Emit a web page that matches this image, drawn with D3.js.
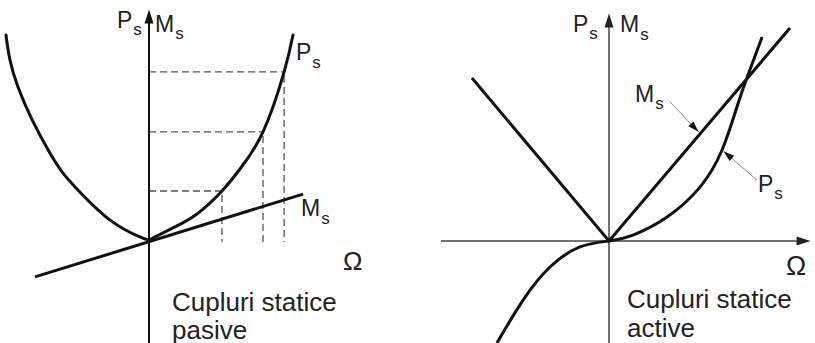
<!DOCTYPE html>
<html>
<head>
<meta charset="utf-8">
<script src="https://cdn.jsdelivr.net/npm/d3@7"></script>
<style>
  body { margin: 0; background: #fff; }
  svg { display: block; }
  text { font-family: "Liberation Sans", Arial, sans-serif; fill: #222; }
</style>
</head>
<body>
<svg id="chart" width="815" height="343"></svg>
<script>
// ---- Passive static torques (left diagram) ----
const passiveOmega   = [-5.96, -5.46, -4.13, -3.08, -1.63, -0.38, 0, 1.0, 2.0, 3.04, 3.79, 4.75, 5.63, 6.0];
const passivePs      = [10.0, 7.46, 4.24, 2.59, 0.98, 0.15, 0, 0.59, 1.27, 2.39, 3.46, 5.27, 8.2, 10.0];
const passiveMsOmega = [-4.75, 6.42];
const passiveMs      = [-1.8, 2.24];
// operating points projected onto the axis with dashed guides
const guideOmega     = [3.04, 4.75, 5.63];
const guidePs        = [2.39, 5.27, 8.2];

// ---- Active static torques (right diagram) ----
const activeOmega    = [-4.67, -3.58, -2.46, -1.21, 0, 1.0, 2.42, 3.79, 4.71, 5.33, 5.79, 6.38];
const activePs       = [-4.98, -2.88, -1.27, -0.29, 0, 0.29, 1.17, 2.63, 4.44, 6.54, 8.10, 9.95];
const activeMsOmega  = [-5.71, 0, 7.54];
const activeMs       = [7.95, 0, 10.39];

// axis extents (data units) for each diagram
const passiveAxisY   = [-5.05, 11.25];
const activeAxisX    = [-7.0, 8.4];
const activeAxisY    = [-5.0, 11.1];

const svg = d3.select("#chart");

// each diagram: origin in pixels, 24 px per Ω unit, 20.5 px per P/M unit
function makeScales(ox, oy) {
  return {
    x: d3.scaleLinear().domain([0, 10]).range([ox, ox + 240]),
    y: d3.scaleLinear().domain([0, 10]).range([oy, oy - 205])
  };
}
const L = makeScales(149, 240);
const R = makeScales(609, 241);

const zip = (xs, ys) => xs.map((v, i) => [v, ys[i]]);

function curvePath(s, pts, curve) {
  return d3.line().x(d => s.x(d[0])).y(d => s.y(d[1])).curve(curve)(pts);
}

function arrowHead(g, tip, dir, len, half, fill) {
  const n = Math.hypot(dir[0], dir[1]);
  const ux = dir[0] / n, uy = dir[1] / n;
  const bx = tip[0] - ux * len, by = tip[1] - uy * len;
  g.append("path")
    .attr("d", `M${tip[0]},${tip[1]}L${bx - uy * half},${by + ux * half}L${bx + uy * half},${by - ux * half}Z`)
    .attr("fill", fill);
}

function label(g, x, y, main, sub, size, subSize, subDy) {
  const t = g.append("text").attr("x", x).attr("y", y).attr("font-size", size);
  t.append("tspan").text(main);
  if (sub) t.append("tspan").attr("font-size", subSize).attr("dy", subDy).attr("dx", 1).text(sub);
}

// ================= left: passive =================
const gl = svg.append("g");

// dashed projection guides
const guides = zip(guideOmega, guidePs);
gl.selectAll(".gh").data(guides).join("line")
  .attr("x1", L.x(0)).attr("x2", d => L.x(d[0]))
  .attr("y1", d => L.y(d[1])).attr("y2", d => L.y(d[1]))
  .attr("stroke", "#555").attr("stroke-width", 1.3).attr("stroke-dasharray", "7,4");
gl.selectAll(".gv").data(guides).join("line")
  .attr("x1", d => L.x(d[0])).attr("x2", d => L.x(d[0]))
  .attr("y1", d => L.y(d[1]) + 4).attr("y2", L.y(-0.1))
  .attr("stroke", "#555").attr("stroke-width", 1.3).attr("stroke-dasharray", "7,4");

// vertical axis
gl.append("line")
  .attr("x1", L.x(0)).attr("x2", L.x(0))
  .attr("y1", L.y(passiveAxisY[0])).attr("y2", L.y(passiveAxisY[1]) + 8)
  .attr("stroke", "#111").attr("stroke-width", 2);
arrowHead(gl, [L.x(0), L.y(passiveAxisY[1])], [0, -1], 14, 4.5, "#111");

// Ms line
gl.append("path")
  .attr("d", curvePath(L, zip(passiveMsOmega, passiveMs), d3.curveLinear))
  .attr("fill", "none").attr("stroke", "#111").attr("stroke-width", 3);

// Ps curve, two branches meeting at the origin
const pPts = zip(passiveOmega, passivePs);
[pPts.filter(d => d[0] <= 0), pPts.filter(d => d[0] >= 0)].forEach(branch => {
  gl.append("path")
    .attr("d", curvePath(L, branch, d3.curveNatural))
    .attr("fill", "none").attr("stroke", "#111").attr("stroke-width", 3)
    .attr("stroke-linecap", "round");
});

label(gl, 117, 28, "P", "s", 23, 17, 7);
label(gl, 155, 32, "M", "s", 23, 17, 7);
label(gl, 296, 60, "P", "s", 23, 17, 8);
label(gl, 301, 216, "M", "s", 23, 17, 8);
gl.append("text").attr("x", 343).attr("y", 270).attr("font-size", 26).text("Ω");
gl.append("text").attr("x", 172).attr("y", 311).attr("font-size", 26).text("Cupluri statice");
gl.append("text").attr("x", 172).attr("y", 339).attr("font-size", 26).text("pasive");

// ================= right: active =================
const gr = svg.append("g");

// axes
gr.append("line")
  .attr("x1", R.x(activeAxisX[0])).attr("x2", R.x(activeAxisX[1]) - 8)
  .attr("y1", R.y(0)).attr("y2", R.y(0))
  .attr("stroke", "#444").attr("stroke-width", 1.5);
arrowHead(gr, [R.x(activeAxisX[1]), R.y(0)], [1, 0], 14, 4.5, "#222");
gr.append("line")
  .attr("x1", R.x(0)).attr("x2", R.x(0))
  .attr("y1", R.y(activeAxisY[0])).attr("y2", R.y(activeAxisY[1]) + 8)
  .attr("stroke", "#444").attr("stroke-width", 1.5);
arrowHead(gr, [R.x(0), R.y(activeAxisY[1])], [0, -1], 14, 4.5, "#222");

// Ms (V shape)
gr.append("path")
  .attr("d", curvePath(R, zip(activeMsOmega, activeMs), d3.curveLinear))
  .attr("fill", "none").attr("stroke", "#111").attr("stroke-width", 3)
  .attr("stroke-linejoin", "miter");

// Ps
gr.append("path")
  .attr("d", curvePath(R, zip(activeOmega, activePs), d3.curveNatural))
  .attr("fill", "none").attr("stroke", "#111").attr("stroke-width", 3);

// leader lines pointing at the curves
const msSlope = activeMs[2] / activeMsOmega[2];
const msTipOmega = 3.8;
const msTip = [R.x(msTipOmega), R.y(msTipOmega * msSlope)];
const msTail = [670, 102];
const psTip = [R.x(activeOmega[8]), R.y(activePs[8])];
const psTail = [757, 180];
[[msTail, msTip, -2.5], [psTail, psTip, -2]].forEach(([tail, tip, back]) => {
  const dx = tip[0] - tail[0], dy = tip[1] - tail[1];
  const n = Math.hypot(dx, dy);
  const t = [tip[0] + dx / n * back, tip[1] + dy / n * back];
  gr.append("line")
    .attr("x1", tail[0]).attr("y1", tail[1]).attr("x2", t[0]).attr("y2", t[1])
    .attr("stroke", "#888").attr("stroke-width", 1);
  arrowHead(gr, t, [dx, dy], 11, 3.5, "#111");
});

label(gr, 573, 32, "P", "s", 23, 17, 7);
label(gr, 620, 32, "M", "s", 23, 17, 8);
label(gr, 635, 102, "M", "s", 23, 17, 7);
label(gr, 758, 192, "P", "s", 23, 17, 7);
gr.append("text").attr("x", 786).attr("y", 275).attr("font-size", 27).text("Ω");
gr.append("text").attr("x", 627).attr("y", 308).attr("font-size", 26).text("Cupluri statice");
gr.append("text").attr("x", 627).attr("y", 337).attr("font-size", 26).text("active");
</script>
</body>
</html>
